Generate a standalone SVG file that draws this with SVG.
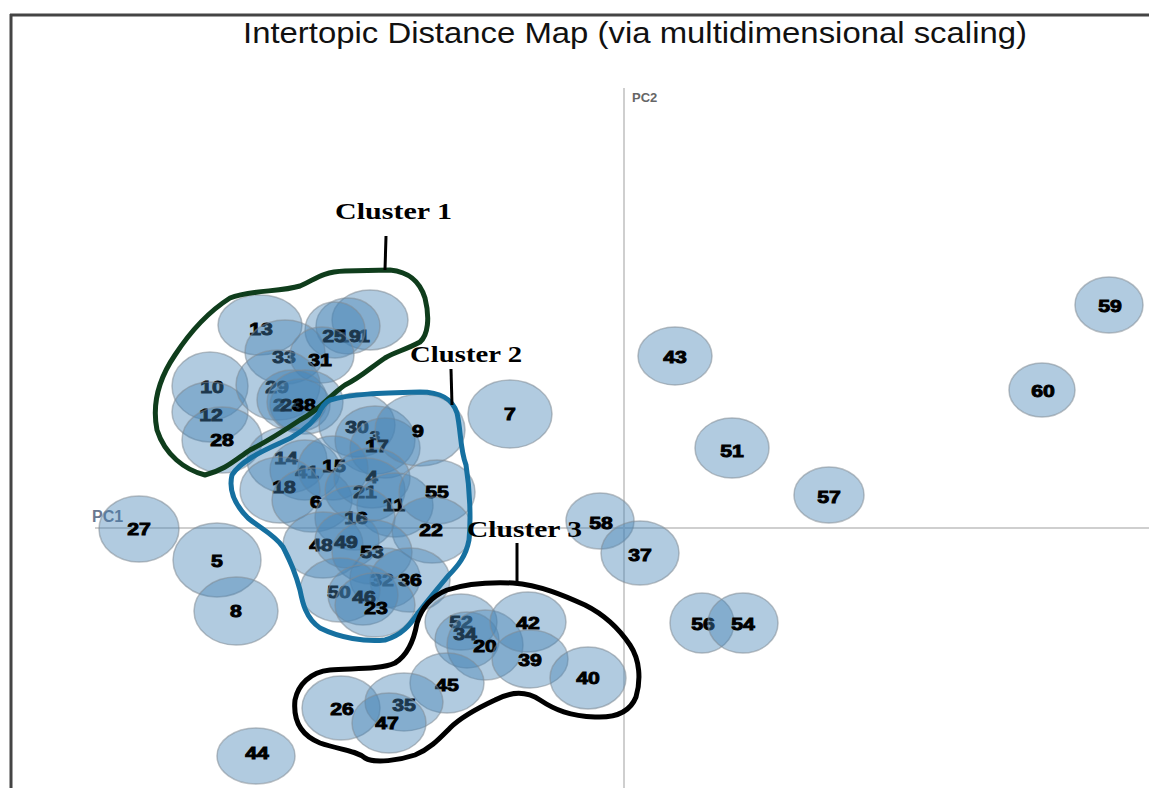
<svg xmlns="http://www.w3.org/2000/svg" width="1149" height="788" viewBox="0 0 1149 788">
<style>
.n ellipse{fill:#4682b4;fill-opacity:0.42;stroke:#7f8a94;stroke-opacity:0.55;stroke-width:1.5}
.n text{font-family:"Liberation Sans",Arial,sans-serif;font-weight:bold;font-size:17px;fill:#000;stroke:#000;stroke-width:0.9;text-anchor:middle}
.ax{stroke:#cfcfcf;stroke-width:2;fill:none}
.cl{font-family:"Liberation Serif","Times New Roman",serif;font-weight:bold;font-size:23px;fill:#000}
.tick{stroke:#000;stroke-width:3;fill:none}
.hull{fill:none;stroke-width:5;stroke-linejoin:round;stroke-linecap:round}
</style>
<rect width="1149" height="788" fill="#fff"/>
<g id="frame">
<line x1="10" y1="15" x2="1149" y2="15" stroke="#444" stroke-width="3"/>
<line x1="11" y1="14" x2="11" y2="788" stroke="#444" stroke-width="3"/>
</g>
<text id="title" x="243" y="43" font-family="Liberation Sans,Arial,sans-serif" font-size="30" fill="#111" textLength="784" lengthAdjust="spacingAndGlyphs">Intertopic Distance Map (via multidimensional scaling)</text>
<g id="axes">
<line class="ax" x1="624" y1="88" x2="624" y2="788"/>
<line class="ax" x1="95" y1="528" x2="1149" y2="528"/>
<text x="632" y="102" font-family="Liberation Sans,Arial,sans-serif" font-weight="bold" font-size="13" fill="#666">PC2</text>
<text x="92" y="522" font-family="Liberation Sans,Arial,sans-serif" font-weight="bold" font-size="16" fill="#6a7890">PC1</text>
</g>
<g id="nodes">
<g id="t27" class="n"><ellipse cx="139" cy="529" rx="40" ry="33"/><text transform="translate(139 535) scale(1.25 1)">27</text></g>
<g id="t5" class="n"><ellipse cx="217" cy="560" rx="44" ry="37"/><text transform="translate(217 567) scale(1.25 1)">5</text></g>
<g id="t8" class="n"><ellipse cx="236" cy="611" rx="42" ry="34"/><text transform="translate(236 617) scale(1.25 1)">8</text></g>
<g id="t44" class="n"><ellipse cx="256" cy="756" rx="39" ry="28"/><text transform="translate(257 759) scale(1.25 1)">44</text></g>
<g id="t7" class="n"><ellipse cx="510" cy="414" rx="42" ry="34"/><text transform="translate(510 420) scale(1.25 1)">7</text></g>
<g id="t58" class="n"><ellipse cx="600" cy="521" rx="34" ry="28"/><text transform="translate(601 529) scale(1.25 1)">58</text></g>
<g id="t37" class="n"><ellipse cx="640" cy="553" rx="39" ry="32"/><text transform="translate(640 561) scale(1.25 1)">37</text></g>
<g id="t43" class="n"><ellipse cx="675" cy="356" rx="37" ry="29"/><text transform="translate(675 363) scale(1.25 1)">43</text></g>
<g id="t51" class="n"><ellipse cx="732" cy="448" rx="37" ry="30"/><text transform="translate(732 457) scale(1.25 1)">51</text></g>
<g id="t57" class="n"><ellipse cx="829" cy="495" rx="35" ry="28"/><text transform="translate(829 503) scale(1.25 1)">57</text></g>
<g id="t56" class="n"><ellipse cx="702" cy="623" rx="32" ry="30"/><text transform="translate(703 630) scale(1.25 1)">56</text></g>
<g id="t54" class="n"><ellipse cx="743" cy="623" rx="35" ry="30"/><text transform="translate(743 630) scale(1.25 1)">54</text></g>
<g id="t60" class="n"><ellipse cx="1042" cy="390" rx="33" ry="27"/><text transform="translate(1043 397) scale(1.25 1)">60</text></g>
<g id="t59" class="n"><ellipse cx="1109" cy="305" rx="34" ry="28"/><text transform="translate(1110 312) scale(1.25 1)">59</text></g>

<g id="t13" class="n"><ellipse cx="260" cy="325" rx="42" ry="30"/><text transform="translate(261 335) scale(1.25 1)">13</text></g>
<g id="t1" class="n"><ellipse cx="370" cy="320" rx="38" ry="30"/><text transform="translate(364 342) scale(1.25 1)">1</text></g>
<g id="t19" class="n"><ellipse cx="348" cy="326" rx="32" ry="28"/><text transform="translate(349 342) scale(1.25 1)">19</text></g>
<g id="t25" class="n"><ellipse cx="335" cy="330" rx="30" ry="28"/><text transform="translate(334 342) scale(1.25 1)">25</text></g>
<g id="t33" class="n"><ellipse cx="285" cy="352" rx="40" ry="32"/><text transform="translate(284 363) scale(1.25 1)">33</text></g>
<g id="t31" class="n"><ellipse cx="322" cy="355" rx="32" ry="28"/><text transform="translate(320 366) scale(1.25 1)">31</text></g>
<g id="t10" class="n"><ellipse cx="210" cy="386" rx="38" ry="34"/><text transform="translate(212 393) scale(1.25 1)">10</text></g>
<g id="t12" class="n"><ellipse cx="210" cy="412" rx="38" ry="30"/><text transform="translate(211 421) scale(1.25 1)">12</text></g>
<g id="t28" class="n"><ellipse cx="222" cy="440" rx="40" ry="33"/><text transform="translate(222 446) scale(1.25 1)">28</text></g>
<g id="t29" class="n"><ellipse cx="278" cy="385" rx="42" ry="35"/><text transform="translate(277 393) scale(1.25 1)">29</text></g>
<g id="t2" class="n"><ellipse cx="292" cy="400" rx="35" ry="30"/><text transform="translate(279 411) scale(1.25 1)">2</text></g>
<g id="t24" class="n"><ellipse cx="300" cy="405" rx="30" ry="26"/><text transform="translate(292 411) scale(1.25 1)">24</text></g>
<g id="t38" class="n"><ellipse cx="305" cy="402" rx="38" ry="32"/><text transform="translate(304 411) scale(1.25 1)">38</text></g>

<g id="t30" class="n"><ellipse cx="357" cy="425" rx="38" ry="32"/><text transform="translate(357 433) scale(1.25 1)">30</text></g>
<g id="t3" class="n"><ellipse cx="375" cy="440" rx="40" ry="34"/><text transform="translate(375 440) scale(1.1 0.8)">3</text></g>
<g id="t17" class="n"><ellipse cx="385" cy="448" rx="35" ry="30"/><text transform="translate(377 452) scale(1.25 1)">17</text></g>
<g id="t9" class="n"><ellipse cx="420" cy="430" rx="45" ry="36"/><text transform="translate(418 437) scale(1.25 1)">9</text></g>
<g id="t14" class="n"><ellipse cx="287" cy="460" rx="40" ry="33"/><text transform="translate(286 464) scale(1.25 1)">14</text></g>
<g id="t41" class="n"><ellipse cx="305" cy="470" rx="35" ry="30"/><text transform="translate(307 478) scale(1.25 1)">41</text></g>
<g id="t15" class="n"><ellipse cx="333" cy="468" rx="35" ry="32"/><text transform="translate(334 472) scale(1.25 1)">15</text></g>
<g id="t18" class="n"><ellipse cx="280" cy="490" rx="40" ry="33"/><text transform="translate(284 493) scale(1.25 1)">18</text></g>
<g id="t6" class="n"><ellipse cx="312" cy="500" rx="40" ry="32"/><text transform="translate(316 508) scale(1.25 1)">6</text></g>
<g id="t4" class="n"><ellipse cx="372" cy="478" rx="38" ry="30"/><text transform="translate(372 483) scale(1.25 1)">4</text></g>
<g id="t21" class="n"><ellipse cx="365" cy="490" rx="40" ry="32"/><text transform="translate(365 498) scale(1.25 1)">21</text></g>
<g id="t11" class="n"><ellipse cx="395" cy="505" rx="38" ry="32"/><text transform="translate(394 511) scale(1.25 1)">11</text></g>
<g id="t55" class="n"><ellipse cx="437" cy="492" rx="38" ry="32"/><text transform="translate(437 498) scale(1.25 1)">55</text></g>
<g id="t16" class="n"><ellipse cx="355" cy="518" rx="40" ry="32"/><text transform="translate(356 524) scale(1.25 1)">16</text></g>
<g id="t22" class="n"><ellipse cx="432" cy="530" rx="40" ry="33"/><text transform="translate(431 536) scale(1.25 1)">22</text></g>
<g id="t48" class="n"><ellipse cx="323" cy="545" rx="40" ry="33"/><text transform="translate(321 551) scale(1.25 1)">48</text></g>
<g id="t49" class="n"><ellipse cx="347" cy="540" rx="32" ry="28"/><text transform="translate(346 548) scale(1.25 1)">49</text></g>
<g id="t53" class="n"><ellipse cx="372" cy="552" rx="40" ry="32"/><text transform="translate(372 558) scale(1.25 1)">53</text></g>
<g id="t32" class="n"><ellipse cx="385" cy="578" rx="35" ry="30"/><text transform="translate(382 586) scale(1.25 1)">32</text></g>
<g id="t36" class="n"><ellipse cx="410" cy="580" rx="40" ry="32"/><text transform="translate(410 586) scale(1.25 1)">36</text></g>
<g id="t50" class="n"><ellipse cx="340" cy="590" rx="40" ry="32"/><text transform="translate(339 598) scale(1.25 1)">50</text></g>
<g id="t46" class="n"><ellipse cx="363" cy="595" rx="35" ry="30"/><text transform="translate(364 603) scale(1.25 1)">46</text></g>
<g id="t23" class="n"><ellipse cx="375" cy="605" rx="40" ry="32"/><text transform="translate(376 614) scale(1.25 1)">23</text></g>

<g id="t52" class="n"><ellipse cx="461" cy="622" rx="36" ry="28"/><text transform="translate(461 628) scale(1.25 1)">52</text></g>
<g id="t34" class="n"><ellipse cx="467" cy="640" rx="32" ry="28"/><text transform="translate(465 640) scale(1.25 1)">34</text></g>
<g id="t20" class="n"><ellipse cx="485" cy="645" rx="38" ry="35"/><text transform="translate(485 652) scale(1.25 1)">20</text></g>
<g id="t42" class="n"><ellipse cx="528" cy="622" rx="38" ry="30"/><text transform="translate(528 629) scale(1.25 1)">42</text></g>
<g id="t39" class="n"><ellipse cx="530" cy="659" rx="38" ry="29"/><text transform="translate(530 666) scale(1.25 1)">39</text></g>
<g id="t40" class="n"><ellipse cx="588" cy="678" rx="38" ry="31"/><text transform="translate(588 684) scale(1.25 1)">40</text></g>
<g id="t45" class="n"><ellipse cx="447" cy="683" rx="37" ry="30"/><text transform="translate(447 691) scale(1.25 1)">45</text></g>
<g id="t26" class="n"><ellipse cx="341" cy="708" rx="39" ry="32"/><text transform="translate(342 715) scale(1.25 1)">26</text></g>
<g id="t35" class="n"><ellipse cx="404" cy="702" rx="39" ry="29"/><text transform="translate(404 711) scale(1.25 1)">35</text></g>
<g id="t47" class="n"><ellipse cx="389" cy="723" rx="37" ry="30"/><text transform="translate(387 729) scale(1.25 1)">47</text></g>
</g>
<g id="connectors">
<path id="hull1" class="hull" stroke="#0f3d1c" d="M205,475 C185,470 165,455 157,430 C152,405 158,380 175,355 C190,332 208,312 230,298 C250,290 280,292 300,286 C315,280 320,272 345,271 L390,270 C410,272 420,282 425,298 C430,318 428,335 420,342 C405,350 395,352 385,358 C370,368 360,378 345,385 C330,395 320,410 300,420 C285,430 270,440 250,450 C235,460 225,470 205,475 Z"/>
<path id="hull2" class="hull" stroke="#1670a0" d="M330,400 C350,394 380,393 420,392 C440,392 452,398 457,413 C461,430 460,450 466,465 C470,490 471,520 469,540 C466,556 458,566 448,576 C438,588 428,600 418,613 C410,625 402,635 385,640 C365,642 340,638 320,628 C305,618 302,600 300,590 C296,575 290,560 283,547 C275,535 260,528 248,518 C236,506 228,492 232,475 C240,462 260,452 280,443 C300,435 310,425 318,415 C322,406 326,402 330,400 Z"/>
<path id="hull3" class="hull" stroke="#000" d="M417,623 C414,640 408,655 395,663 C380,670 350,668 330,670 C310,672 298,685 295,700 C293,720 300,735 320,743 C340,750 355,750 365,758 C375,764 400,760 415,755 C430,749 440,738 450,728 C462,716 480,707 495,700 C510,692 525,690 540,700 C555,710 570,716 595,717 C615,718 630,712 636,697 C641,680 640,660 630,645 C620,630 605,615 585,605 C565,596 540,585 513,583 C490,582 465,584 447,590 C430,597 421,610 417,623 Z"/>
<line class="tick" x1="386" y1="236" x2="385" y2="270"/>
<line class="tick" x1="451" y1="369" x2="452" y2="405"/>
<line class="tick" x1="517" y1="543" x2="517" y2="583"/>
</g>
<g id="labels">
<text class="cl" x="335" y="219" textLength="117" lengthAdjust="spacingAndGlyphs">Cluster 1</text>
<text class="cl" x="410" y="362" textLength="112" lengthAdjust="spacingAndGlyphs">Cluster 2</text>
<text class="cl" x="467" y="537" textLength="115" lengthAdjust="spacingAndGlyphs">Cluster 3</text>
</g>
</svg>
